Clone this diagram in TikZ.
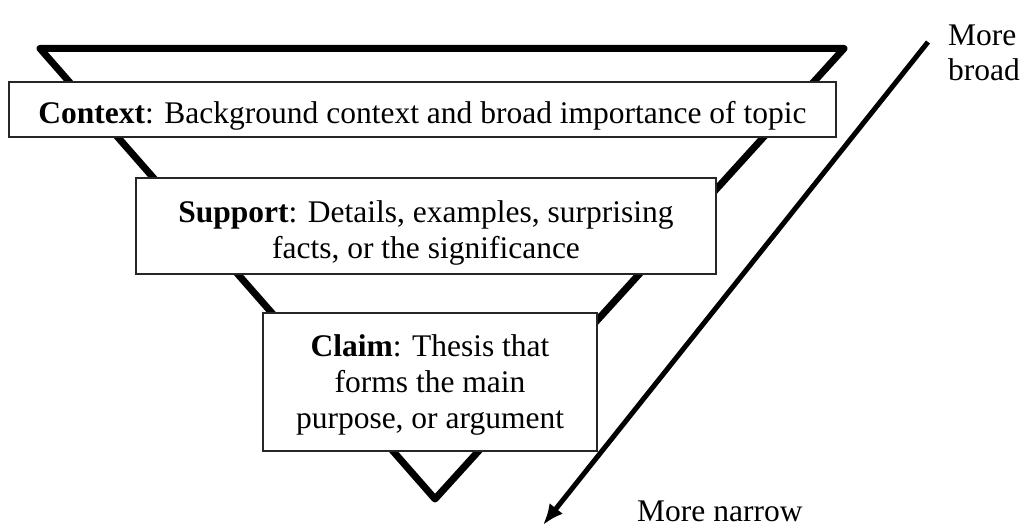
\documentclass[tikz,border=0pt]{standalone}
\usepackage{fontspec}
\setmainfont{Liberation Serif}
\usepackage{tikz}
\usetikzlibrary{positioning}
\usetikzlibrary{arrows.meta}

\begin{document}
\begin{tikzpicture}[x=1pt,y=-1pt,
	text box/.style={rectangle, draw=black!85, line width=1.1pt, fill=white, inner sep=0pt, outer sep=0pt, align=center, font=\fontsize{31.5}{36}\selectfont},
	side label/.style={inner sep=0pt, align=left, font=\fontsize{31.5}{35}\selectfont},
	funnel/.style={line width=7pt, line join=round, line cap=round}]
			\useasboundingbox (0,0) rectangle (1021,527);
			
			% Funnel
			\coordinate (tl) at (40,48.5);
			\coordinate (tr) at (844,48.5);
			\coordinate (apex) at (435,499);
			\draw[funnel] (tl) -- (tr) -- (apex) -- cycle;
			
			% Nodes
			\node[text box, minimum width=827pt, minimum height=55pt, text height=34pt] (context) at (422.5,109.5) {\textbf{Context}: Background context and broad importance of topic};
			\node[text box, minimum width=580pt, minimum height=96pt, text height=71pt] (support) [below=41pt of context, xshift=3.5pt] {\textbf{Support}: Details, examples, surprising\\facts, or the significance};
			\node[text box, minimum width=334pt, minimum height=138pt, text height=99pt] (claim) [below=39pt of support, xshift=4pt] {\textbf{Claim}: Thesis that\\forms the main\\purpose, or argument};
			
			% Arrow
			\coordinate (broadend) at (928,42);
			\coordinate (narrowend) at (543,525);
			\draw[line width=5pt, -{Latex[length=21pt,width=17pt]}] (broadend) -- (narrowend);
			
			\node[side label, anchor=north west] (broad) at (948,25) {More\\broad};
			\node[side label, anchor=base west] (narrow) at (637,521) {More narrow};
			
		\end{tikzpicture}
\end{document}
